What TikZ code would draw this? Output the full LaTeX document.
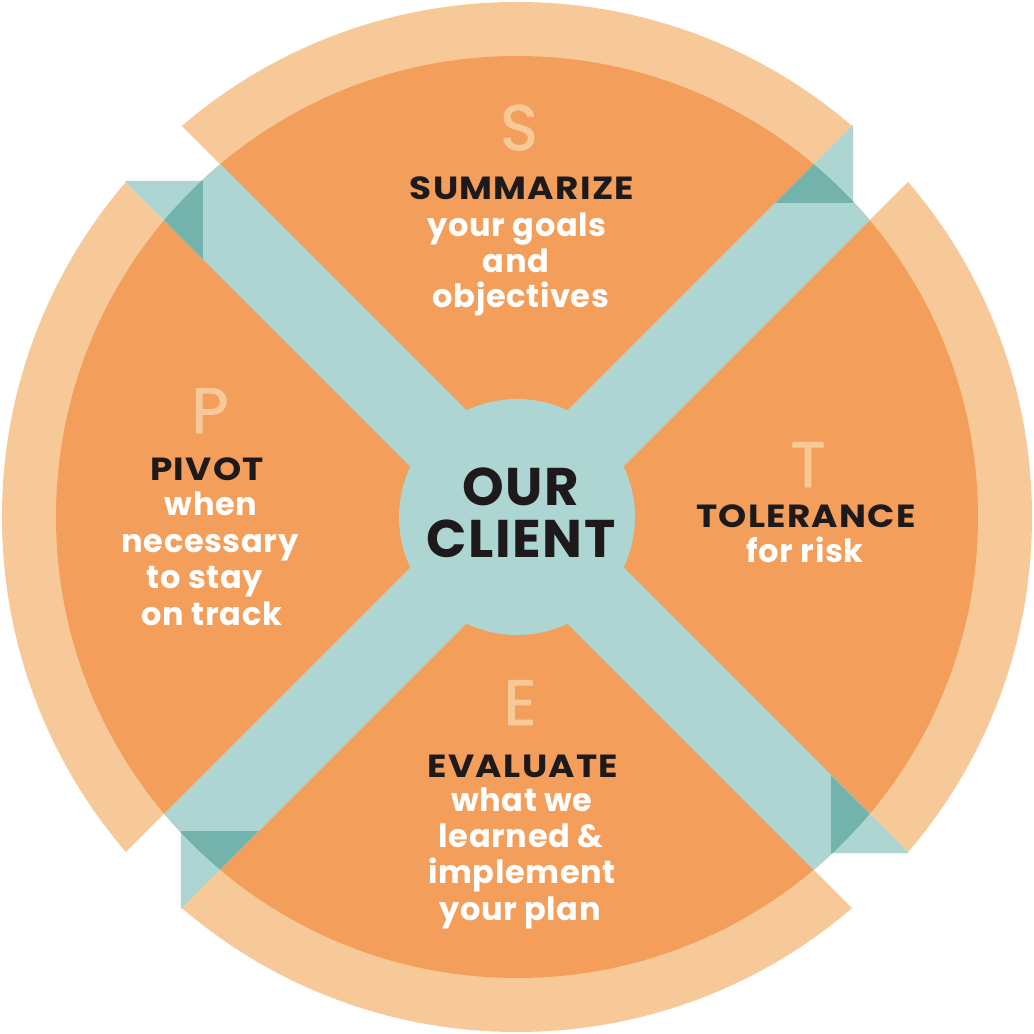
\documentclass[tikz,border=0pt]{standalone}
\usepackage{fontspec}
\setmainfont{Poppins}
\definecolor{dorange}{HTML}{F49E5C}
\definecolor{lorange}{HTML}{F8C998}
\definecolor{lteal}{HTML}{ADD5D1}
\definecolor{dteal}{HTML}{74B3AC}
\definecolor{ink}{HTML}{1E1A1B}
\begin{document}
\begin{tikzpicture}[x=1pt,y=1pt,
  head/.style={font=\fontsize{32}{36}\selectfont\bfseries\addfontfeatures{FakeStretch=1.12,LetterSpace=4}, text=ink, inner sep=0pt, anchor=base},
  sub/.style={font=\fontsize{32}{36}\selectfont\bfseries\addfontfeatures{LetterSpace=2}, text=white, inner sep=0pt, anchor=base},
  initial/.style={font=\fontsize{64}{70}\selectfont\addfontfeatures{FakeBold=1.5}, text=lorange, inner sep=0pt, anchor=base},
  hubtext/.style={font=\fontsize{53}{60}\selectfont\bfseries\addfontfeatures{LetterSpace=3}, text=ink, inner sep=0pt, anchor=base},
  flag/.style={fill=lteal},
  flagdark/.style={fill=dteal}]
\useasboundingbox (-517,-517) rectangle (517,517);
% outer light ring, cut by the diagonal strips
\begin{scope}
  \clip (0,0) circle (515);
  \foreach \a in {0,90,180,270}
    \fill[lorange, rotate=\a] (0,56) -- (-700,756) -- (700,756) -- cycle;
\end{scope}
% main disc
\fill[dorange] (0,0) circle (461);
% diagonal bands
\begin{scope}
  \clip (0,0) circle (461);
  \fill[lteal, rotate=45] (-600,-39.6) rectangle (600,39.6);
  \fill[lteal, rotate=-45] (-600,-39.6) rectangle (600,39.6);
\end{scope}
% flags at the band ends
\foreach \a in {0,-90,-180,-270} {
  \fill[flag, rotate=\a] (-392,336) -- (-314,336) -- (-314,258) -- cycle;
  \begin{scope}
    \clip (0,0) circle (461);
    \fill[flagdark, rotate=\a] (-392,336) -- (-314,336) -- (-314,258) -- cycle;
  \end{scope}
}
% hub
\node[circle, fill=lteal, minimum size=236pt, inner sep=0pt] (hub) at (0,0) {};
\node[hubtext] (our) at (4,12) {OUR};
\node[hubtext] (client) at (4,-40) {CLIENT};
% S block
\node[initial] (sL) at (2,367) {S};
\node[head] (s1) at (5,317) {SUMMARIZE};
\node[sub] (s2) at (0,280) {your goals};
\node[sub] (s3) at (-1,244) {and};
\node[sub] (s4) at (4,209) {objectives};
% P block
\node[initial] (pL) at (-307,84) {P};
\node[head] (p1) at (-310,37) {PIVOT};
\node[sub] (p2) at (-306,2) {when};
\node[sub] (p3) at (-307,-35) {necessary};
\node[sub] (p4) at (-312,-71) {to stay};
\node[sub] (p5) at (-305,-108) {on track};
% T block
\node[initial] (tL) at (291,30) {T};
\node[head] (t1) at (289,-10) {TOLERANCE};
\node[sub] (t2) at (288,-45) {for risk};
% E block
\node[initial] (eL) at (3,-208) {E};
\node[head] (e1) at (6,-260) {EVALUATE};
\node[sub] (e2) at (5,-294) {what we};
\node[sub] (e3) at (4,-330) {learned \&};
\node[sub] (e4) at (5,-366) {implement};
\node[sub] (e5) at (3,-403) {your plan};
\end{tikzpicture}
\end{document}
